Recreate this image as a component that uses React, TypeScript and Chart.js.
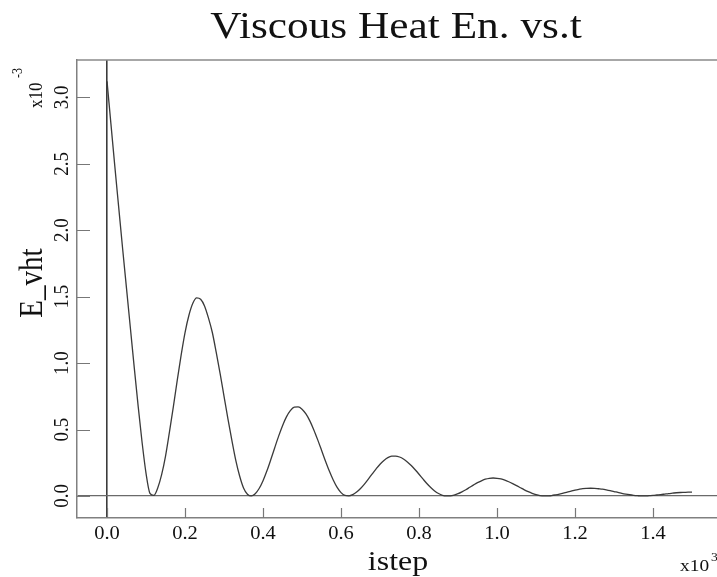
import React, { useEffect, useRef } from "react";
import { Chart, registerables } from "chart.js";

Chart.register(...registerables);

// ---- Data (istep in units of 10^3, E_vht in units of 10^-3) ----
const TITLE = "Viscous Heat En. vs.t";
const X_TITLE = "istep";
const Y_TITLE = "E_vht";
const X_TICKS = [0, 0.2, 0.4, 0.6, 0.8, 1.0, 1.2, 1.4];
const Y_TICKS = [0, 0.5, 1.0, 1.5, 2.0, 2.5, 3.0];
const X_MIN = -0.077;
const X_MAX = 1.564;
const Y_MIN = -0.166;
const Y_MAX = 3.281;
const ISTEP_SPACING = 0.01; // samples every 10 steps (0.01 x10^3)

const E_VHT = [
  3.12, 2.80, 2.48, 2.17, 1.86, 1.56, 1.26, 0.96, 0.67, 0.40,
  0.17, 0.02, 0.004, 0.06, 0.16, 0.30, 0.48, 0.67, 0.87, 1.06,
  1.23, 1.36, 1.45, 1.49, 1.48, 1.43, 1.34, 1.23, 1.08, 0.92,
  0.75, 0.58, 0.42, 0.27, 0.15, 0.06, 0.013, 0.0, 0.017, 0.056,
  0.115, 0.189, 0.274, 0.363, 0.450, 0.529, 0.595, 0.642, 0.668, 0.670,
  0.653, 0.617, 0.565, 0.499, 0.424, 0.344, 0.263, 0.187, 0.120, 0.064,
  0.025, 0.004, 0.001, 0.010, 0.029, 0.056, 0.089, 0.127, 0.166, 0.204,
  0.239, 0.267, 0.288, 0.299, 0.300, 0.293, 0.278, 0.256, 0.229, 0.197,
  0.163, 0.128, 0.094, 0.064, 0.038, 0.018, 0.005, 0.0, 0.001, 0.007,
  0.017, 0.031, 0.047, 0.065, 0.083, 0.100, 0.114, 0.126, 0.133, 0.135,
  0.133, 0.128, 0.119, 0.107, 0.093, 0.078, 0.062, 0.046, 0.032, 0.020,
  0.010, 0.003, 0.0, 0.001, 0.003, 0.008, 0.014, 0.021, 0.029, 0.036,
  0.044, 0.050, 0.055, 0.057, 0.058, 0.057, 0.054, 0.051, 0.046, 0.040,
  0.033, 0.027, 0.020, 0.014, 0.009, 0.005, 0.002, 0.0, 0.0, 0.002,
  0.004, 0.007, 0.010, 0.014, 0.018, 0.021, 0.024, 0.026, 0.027, 0.028,
  0.028,
];

const SERIF = '"Liberation Serif", "DejaVu Serif", serif';
const STRETCH = 1.14;

function drawText(
  ctx: CanvasRenderingContext2D,
  text: string,
  x: number,
  y: number,
  size: number,
  align: CanvasTextAlign,
  vertical: boolean
) {
  ctx.save();
  ctx.translate(x, y);
  if (vertical) {
    ctx.rotate(-Math.PI / 2);
    ctx.scale(1, STRETCH);
  } else {
    ctx.scale(STRETCH, 1);
  }
  ctx.font = `${size}px ${SERIF}`;
  ctx.textAlign = align;
  ctx.textBaseline = "alphabetic";
  ctx.fillStyle = "#111";
  ctx.fillText(text, 0, 0);
  ctx.restore();
}

const overlayPlugin = {
  id: "overlay",
  afterDraw(chart: any) {
    const { ctx, chartArea: a, scales } = chart;
    const xs = scales.x;
    const ys = scales.y;
    ctx.save();
    // top frame line
    ctx.strokeStyle = "#8a8a8a";
    ctx.lineWidth = 1.5;
    ctx.beginPath();
    ctx.moveTo(a.left, a.top);
    ctx.lineTo(a.right, a.top);
    ctx.stroke();
    // inward tick marks
    ctx.strokeStyle = "#777";
    ctx.lineWidth = 1.2;
    ctx.beginPath();
    for (const t of xs.ticks) {
      const px = Math.round(xs.getPixelForValue(t.value)) + 0.5;
      ctx.moveTo(px, a.bottom);
      ctx.lineTo(px, a.bottom - 10);
    }
    for (const t of ys.ticks) {
      const py = Math.round(ys.getPixelForValue(t.value)) + 0.5;
      ctx.moveTo(a.left, py);
      ctx.lineTo(a.left + 13, py);
    }
    ctx.stroke();
    ctx.restore();

    // tick labels
    for (const t of xs.ticks) {
      drawText(ctx, t.value.toFixed(1), xs.getPixelForValue(t.value), 539, 18, "center", false);
    }
    for (const t of ys.ticks) {
      drawText(ctx, t.value.toFixed(1), 68, ys.getPixelForValue(t.value), 19, "center", true);
    }
    // titles
    drawText(ctx, TITLE, 396, 38, 38, "center", false);
    drawText(ctx, X_TITLE, 398, 570, 28, "center", false);
    drawText(ctx, Y_TITLE, 42, 283, 29, "center", true);
    // multipliers
    drawText(ctx, "x10", 680, 571, 17, "left", false);
    drawText(ctx, "3", 711, 561, 12, "left", false);
    drawText(ctx, "x10", 42, 108, 17, "left", true);
    drawText(ctx, "-3", 22, 78, 12, "left", true);
  },
};

export default function App() {
  const ref = useRef<HTMLCanvasElement | null>(null);

  useEffect(() => {
    if (!ref.current) return;
    const points = E_VHT.map((v, i) => ({ x: +(i * ISTEP_SPACING).toFixed(2), y: v }));
    const chart = new Chart(ref.current, {
      type: "line",
      data: {
        datasets: [
          {
            data: points,
            borderColor: "#3a3a3a",
            borderWidth: 1.3,
            pointRadius: 0,
            fill: false,
            cubicInterpolationMode: "monotone",
          },
        ],
      },
      options: {
        animation: false,
        responsive: false,
        devicePixelRatio: 1,
        layout: { padding: { left: 77, right: 0, top: 60, bottom: 59 } },
        plugins: { legend: { display: false }, tooltip: { enabled: false }, title: { display: false } },
        scales: {
          x: {
            type: "linear",
            min: X_MIN,
            max: X_MAX,
            afterBuildTicks: (s: any) => {
              s.ticks = X_TICKS.map((v) => ({ value: v }));
            },
            afterFit: (s: any) => {
              s.height = 0;
            },
            ticks: { display: false },
            grid: {
              drawTicks: false,
              drawOnChartArea: true,
              color: (c: any) => (c.tick && c.tick.value === 0 ? "#3c3c3c" : "rgba(0,0,0,0)"),
              lineWidth: (c: any) => (c.tick && c.tick.value === 0 ? 1.6 : 0),
            },
            border: { display: true, color: "#808080", width: 1.5 },
          },
          y: {
            type: "linear",
            min: Y_MIN,
            max: Y_MAX,
            afterBuildTicks: (s: any) => {
              s.ticks = Y_TICKS.map((v) => ({ value: v }));
            },
            afterFit: (s: any) => {
              s.width = 0;
            },
            ticks: { display: false },
            grid: {
              drawTicks: false,
              drawOnChartArea: true,
              color: (c: any) => (c.tick && c.tick.value === 0 ? "#6a6a6a" : "rgba(0,0,0,0)"),
              lineWidth: (c: any) => (c.tick && c.tick.value === 0 ? 1.2 : 0),
            },
            border: { display: true, color: "#808080", width: 1.5 },
          },
        },
      },
      plugins: [overlayPlugin],
    });
    return () => chart.destroy();
  }, []);

  return (
    <div style={{ position: "fixed", left: 0, top: 0, width: 717, height: 577, background: "#fff" }}>
      <canvas ref={ref} width={717} height={577} style={{ width: 717, height: 577, display: "block" }} />
    </div>
  );
}
